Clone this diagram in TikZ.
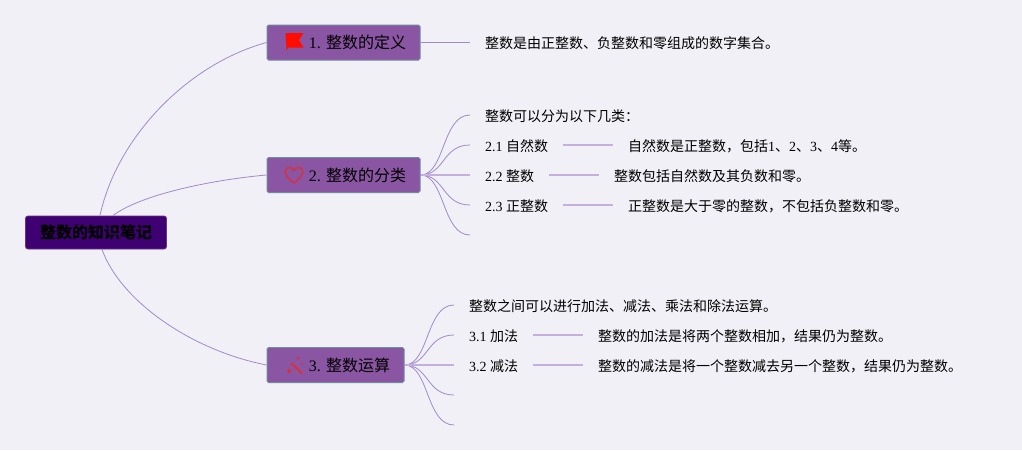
\documentclass[tikz,border=0pt]{standalone}
\usepackage{fontspec}
\setmainfont{Liberation Serif}
\newfontfamily\cjk{Noto Sans CJK SC}
\newcommand{\zh}[1]{{\cjk #1}}
\usetikzlibrary{positioning}
\definecolor{canvasbg}{HTML}{F1F0F6}
\definecolor{rootfill}{HTML}{3F0071}
\definecolor{topicfill}{HTML}{8A55A3}
\definecolor{topicedge}{HTML}{6F8C9C}
\definecolor{branchline}{HTML}{A08ACA}
\definecolor{subline}{HTML}{C3B0DC}
\definecolor{iconred}{HTML}{D9303A}
\tikzset{
  root/.style={draw=rootfill!80!white, fill=rootfill, rounded corners=2.5pt, line width=0.8pt, minimum width=141pt, minimum height=33pt, inner sep=0pt, font=\fontsize{16}{16}\selectfont\bfseries},
  topic/.style={draw=topicedge, fill=topicfill, rounded corners=1.5pt, line width=1pt, minimum height=35pt, inner sep=0pt, font=\fontsize{16}{16}\selectfont},
  leaf/.style={inner xsep=15pt, inner ysep=0pt, text height=12pt, text depth=0pt, font=\fontsize{14}{14}\selectfont},
  branch/.style={draw=branchline, line width=0.8pt},
  sub/.style={draw=subline, line width=1.2pt},
}
\begin{document}
\begin{tikzpicture}[x=1pt, y=-1pt]
    \fill[canvasbg] (0,0) rectangle (1022,450);
    \useasboundingbox (0,0) rectangle (1022,450);

    % root and the three topics
    \node[root] (root) at (96,232.5) {\raisebox{-0.5pt}{\zh{整数的知识笔记}}};
    \node[topic, minimum width=153pt] (topicA) at (343.5,42.5) {\hspace{28pt}\raisebox{-0.7pt}{1. \zh{整数的定义}}};
    \node[topic, minimum width=153pt] (topicB) at (343.5,175) {\hspace{28pt}\raisebox{-0.7pt}{2. \zh{整数的分类}}};
    \node[topic, minimum width=137pt] (topicC) at (335.5,365) {\hspace{28pt}\raisebox{-0.7pt}{3. \zh{整数运算}}};

    % lines from the root
    \draw[branch] (root.north) ++(4,0) coordinate (rootA) .. controls (116,140) and (185,65) .. (topicA.west);
    \draw[branch] (root.north) ++(17,0) coordinate (rootB) .. controls (140,195) and (210,180) .. (topicB.west);
    \draw[branch] (root.south) ++(6,0) coordinate (rootC) .. controls (120,300) and (190,350) .. (topicC.west);

    % topic 1
    \node[leaf, anchor=west] (defText) at (470,42.5) {\zh{整数是由正整数、负整数和零组成的数字集合。}};
    \draw[branch] (topicA.east) -- (defText.west);

    % topic 2
    \node[leaf, anchor=west] (kindHead) at (470,115) {\zh{整数可以分为以下几类：}};
    \node[leaf, anchor=west] (kindA) at (470,145) {2.1 \zh{自然数}};
    \node[leaf, anchor=west] (kindB) at (470,175) {2.2 \zh{整数}};
    \node[leaf, anchor=west] (kindC) at (470,205) {2.3 \zh{正整数}};
    \coordinate (kindEnd) at (470,235);
    \node[leaf, right=49.5pt of kindA] (kindAText) {\zh{自然数是正整数，包括}1\zh{、}2\zh{、}3\zh{、}4\zh{等。}};
    \node[leaf, right=49.5pt of kindB] (kindBText) {\zh{整数包括自然数及其负数和零。}};
    \node[leaf, right=49.5pt of kindC] (kindCText) {\zh{正整数是大于零的整数，不包括负整数和零。}};
    \foreach \leafname in {kindHead.west, kindA.west, kindC.west, kindEnd}
        \draw[branch] (topicB.east) .. controls (445,175) and (442,0 |- \leafname) .. (\leafname);
    \draw[sub] (topicB.east) -- (kindB.west);
    \draw[sub] (kindA) -- (kindAText);
    \draw[sub] (kindB) -- (kindBText);
    \draw[sub] (kindC) -- (kindCText);

    % topic 3
    \node[leaf, anchor=west] (opHead) at (454,305) {\zh{整数之间可以进行加法、减法、乘法和除法运算。}};
    \node[leaf, anchor=west] (opA) at (454,335) {3.1 \zh{加法}};
    \node[leaf, anchor=west] (opB) at (454,365) {3.2 \zh{减法}};
    \coordinate (opEndA) at (454,395);
    \coordinate (opEndB) at (454,425);
    \node[leaf, right=49.5pt of opA] (opAText) {\zh{整数的加法是将两个整数相加，结果仍为整数。}};
    \node[leaf, right=49.5pt of opB] (opBText) {\zh{整数的减法是将一个整数减去另一个整数，结果仍为整数。}};
    \foreach \leafname in {opHead.west, opA.west, opEndA, opEndB}
        \draw[branch] (topicC.east) .. controls (429,365) and (426,0 |- \leafname) .. (\leafname);
    \draw[sub] (topicC.east) -- (opB.west);
    \draw[sub] (opA) -- (opAText);
    \draw[sub] (opB) -- (opBText);

    % icons
    \fill[red!90!orange] (285.5,33) -- (303.5,33) -- (299,40) -- (303.5,47.5) -- (288,47.5) -- (286.5,50.5) -- cycle;
    \draw[iconred, line width=1.4pt] (294,183) .. controls (286,177) and (285,173) .. (285.3,171.5) .. controls (285.5,166.5) and (292,166) .. (294,170.5) .. controls (296,166) and (302.5,166.5) .. (302.7,171.5) .. controls (303,173) and (302,177) .. (294,183);
    \draw[iconred, line width=2pt] (291,363) -- (302,373.5);
    \fill[iconred] (289,371) circle (2pt) (298,358) circle (1.5pt) (302,364) circle (1pt) (294,365) circle (1pt);
\end{tikzpicture}
\end{document}
